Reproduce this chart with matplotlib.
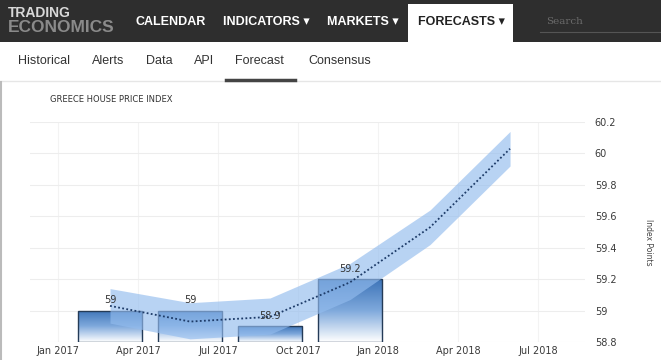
import numpy as np
import matplotlib
matplotlib.use("Agg")
import matplotlib.pyplot as plt
from matplotlib.colors import LinearSegmentedColormap
from matplotlib.patches import Rectangle

W, H = 661, 360

# quarterly actuals (x in months since Jan 2017)
bar_x = [1.95, 4.95, 7.95, 10.95]
bar_vals = [59.0, 59.0, 58.9, 59.2]
bar_labels = ["59", "59", "58.9", "59.2"]

# forecast line and its band
fc_x = [1.95, 4.95, 7.95, 10.95, 13.95, 16.95]
fc_vals = [59.03, 58.93, 58.96, 59.18, 59.53, 60.03]
fc_upper = [59.14, 59.05, 59.08, 59.30, 59.64, 60.14]
fc_lower = [58.92, 58.82, 58.85, 59.07, 59.42, 59.92]

tick_months = [0, 3, 6, 9, 12, 15, 18]
tick_labels = ["Jan 2017", "Apr 2017", "Jul 2017", "Oct 2017",
               "Jan 2018", "Apr 2018", "Jul 2018"]
y_ticks = [58.8, 59, 59.2, 59.4, 59.6, 59.8, 60, 60.2]

nav_top = ["CALENDAR", "INDICATORS ▾", "MARKETS ▾"]
nav_top_x = [135, 223, 327]
nav_sub = ["Historical", "Alerts", "Data", "API", "Forecast", "Consensus"]
nav_sub_x = [18, 92, 146, 194, 235, 308]

NARROW = ["Liberation Sans Narrow", "DejaVu Sans"]
SANS = ["Liberation Sans", "DejaVu Sans"]


def fx(x):
    return x / W


def fy(y):
    return 1 - y / H


fig = plt.figure(figsize=(W / 100, H / 100), dpi=100)
fig.patch.set_facecolor("white")

# header bar
fig.patches.append(Rectangle((0, fy(42)), 1, 42 / H, transform=fig.transFigure,
                             facecolor="#2e2e2e", edgecolor="none", zorder=0))
fig.patches.append(Rectangle((fx(408), fy(42)), 105 / W, 38 / H, transform=fig.transFigure,
                             facecolor="white", edgecolor="none", zorder=1))
fig.text(fx(8), fy(13), "TRADING", color="#d8d8d8", fontsize=10, fontweight="bold",
         family=SANS, va="center")
fig.text(fx(8), fy(27), "ECONOMICS", color="#8a8a8a", fontsize=12.5, fontweight="bold",
         family=SANS, va="center")
for label, x in zip(nav_top, nav_top_x):
    fig.text(fx(x), fy(22), label, color="white", fontsize=9, fontweight="bold",
             family=SANS, va="center")
fig.text(fx(418), fy(22), "FORECASTS ▾", color="#222222", fontsize=9, fontweight="bold",
         family=SANS, va="center")
fig.text(fx(546), fy(21), "Search", color="#6a6a6a", fontsize=7.5, family="DejaVu Serif",
         va="center")
fig.lines.append(plt.Line2D([fx(540), 1], [fy(32), fy(32)], transform=fig.transFigure,
                            color="#555555", lw=0.8))

# sub navigation
for label, x in zip(nav_sub, nav_sub_x):
    fig.text(fx(x), fy(61), label, color="#333333", fontsize=9, family=SANS, va="center")
fig.lines.append(plt.Line2D([0, 1], [fy(81), fy(81)], transform=fig.transFigure,
                            color="#e6e6e6", lw=1))
fig.lines.append(plt.Line2D([fx(226), fx(295)], [fy(80), fy(80)], transform=fig.transFigure,
                            color="#444444", lw=2.5))
fig.lines.append(plt.Line2D([fx(1), fx(1)], [0, fy(82)], transform=fig.transFigure,
                            color="#bbbbbb", lw=1.5))

fig.text(fx(50), fy(99), "GREECE HOUSE PRICE INDEX", color="#333333", fontsize=6,
         family=NARROW, va="center")
fig.text(fx(648), fy(242), "Index Points", color="#444444", fontsize=5.5, family=NARROW,
         rotation=270, ha="center", va="center")

# chart
ax = fig.add_axes([fx(30), fy(342), 555 / W, 220 / H])
ax.set_facecolor("white")
xlim = (-1.05, 19.76)
ylim = (58.8, 60.2)

cmap = LinearSegmentedColormap.from_list("bar", ["#ffffff", "#7fa9dc", "#3d74b8"])
grad = np.linspace(0, 1, 256).reshape(-1, 1)
bars = ax.bar(bar_x, [v - ylim[0] for v in bar_vals], bottom=ylim[0], width=2.4,
              facecolor="none", edgecolor="#243b57", linewidth=1.0, zorder=3)
for b in bars:
    x0, y0 = b.get_x(), b.get_y()
    im = ax.imshow(grad, cmap=cmap, origin="lower", aspect="auto", zorder=2,
                   extent=[x0, x0 + b.get_width(), y0, y0 + b.get_height()])
    im.set_clip_path(b)

ax.fill_between(fc_x, fc_lower, fc_upper, color="#93bcee", alpha=0.65, lw=0, zorder=4)
ax.plot(fc_x, fc_vals, color="#1d3b68", lw=1.3, linestyle=(0, (1, 1.3)), zorder=5)

for x, v, t in zip(bar_x, bar_vals, bar_labels):
    ax.annotate(t, (x, v), xytext=(0, 4), textcoords="offset points", ha="center",
                va="bottom", fontsize=7, color="#333333", family=NARROW, zorder=6)

ax.set_xlim(*xlim)
ax.set_ylim(*ylim)
ax.set_xticks(tick_months)
ax.set_xticklabels(tick_labels, fontsize=7, color="#3a3a3a", family=NARROW)
ax.set_yticks(y_ticks)
ax.set_yticklabels([f"{v:g}" for v in y_ticks], fontsize=7, color="#3a3a3a", family=NARROW)
ax.yaxis.tick_right()
ax.tick_params(axis="y", length=0, pad=7)
ax.tick_params(axis="x", length=0, pad=3)
ax.grid(True, axis="y", color="#ededed", lw=0.8, zorder=0)
ax.grid(True, axis="x", color="#f3f3f3", lw=0.8, zorder=0)
ax.set_axisbelow(True)
for s in ax.spines.values():
    s.set_visible(False)

fig.savefig("out.png", dpi=100)
